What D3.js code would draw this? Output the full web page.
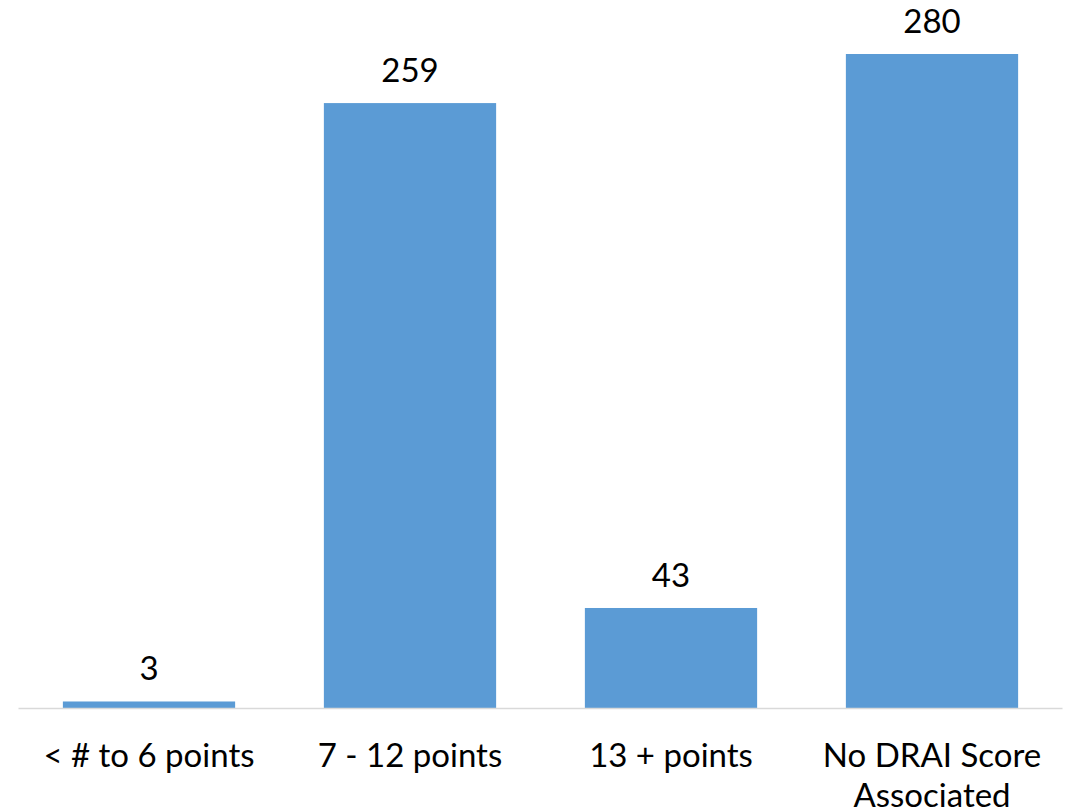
<!DOCTYPE html>
<html>
<head>
<meta charset="utf-8">
<script src="https://cdn.jsdelivr.net/npm/d3@7.9.0/dist/d3.min.js"></script>
<style>
  body { margin: 0; background: #fff; }
  svg { display: block; font-family: Lato, 'Open Sans', sans-serif; }
</style>
</head>
<body>
<div id="chart"></div>
<script>
const categories = ['< # to 6 points', '7 - 12 points', '13 + points', 'No DRAI Score Associated'];
const values = [3, 259, 43, 280];

const width = 1071;
const height = 811;
const fontSize = 33;

const x = d3.scaleBand()
    .domain(categories)
    .range([18.5, 1062.5])
    .paddingInner(0.34)
    .paddingOuter(0.17);

const y = d3.scaleLinear()
    .domain([0, 280])
    .range([708.5, 54]);

const svg = d3.select('#chart')
    .append('svg')
    .attr('width', width)
    .attr('height', height);

// bars
svg.append('g')
    .selectAll('rect')
    .data(values)
    .join('rect')
    .attr('x', (d, i) => x(categories[i]))
    .attr('y', (d) => y(d))
    .attr('width', x.bandwidth())
    .attr('height', (d) => y(0) - y(d))
    .attr('fill', '#5b9bd5');

// axis line
svg.append('line')
    .attr('x1', x.range()[0])
    .attr('x2', x.range()[1])
    .attr('y1', y(0))
    .attr('y2', y(0))
    .attr('stroke', '#d9d9d9')
    .attr('stroke-width', 1.5);

// value labels
svg.append('g')
    .selectAll('text')
    .data(values)
    .join('text')
    .attr('x', (d, i) => x(categories[i]) + x.bandwidth() / 2)
    .attr('y', (d) => y(d) - 21)
    .attr('text-anchor', 'middle')
    .attr('font-size', fontSize)
    .attr('fill', '#000')
    .text((d) => d);

// category labels, wrapped like the original
const wrapped = {
    'No DRAI Score Associated': ['No DRAI Score', 'Associated']
};
const labels = svg.append('g')
    .selectAll('text')
    .data(categories)
    .join('text')
    .attr('x', (d) => x(d) + x.bandwidth() / 2)
    .attr('y', 767)
    .attr('text-anchor', 'middle')
    .attr('font-size', fontSize)
    .attr('fill', '#000');

labels.selectAll('tspan')
    .data((d) => wrapped[d] || [d])
    .join('tspan')
    .attr('x', function () { return this.parentNode.getAttribute('x'); })
    .attr('dy', (d, i) => (i === 0 ? 0 : 40))
    .text((d) => d);
</script>
</body>
</html>
